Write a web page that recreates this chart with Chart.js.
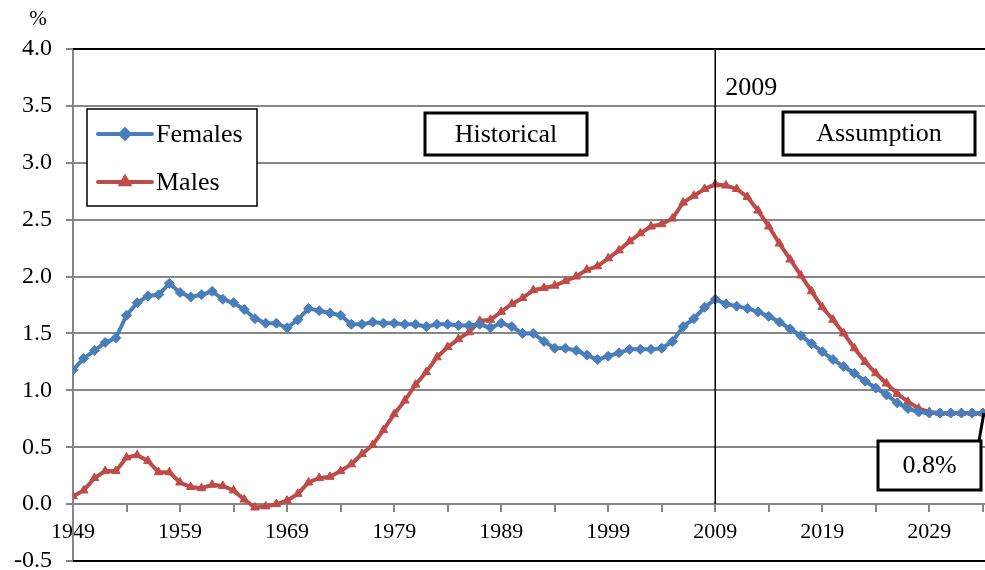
<!DOCTYPE html>
<html>
<head>
<meta charset="utf-8">
<script src="https://cdn.jsdelivr.net/npm/chart.js@4.4.0/dist/chart.umd.min.js"></script>
<style>
  html, body { margin: 0; padding: 0; background: #fff; }
  #wrap { width: 985px; height: 570px; }
</style>
</head>
<body>
<div id="wrap"><canvas id="chart" width="985" height="570"></canvas></div>
<script>
// --- Data ---
const years = [
  1949, 1950, 1951, 1952, 1953, 1954, 1955, 1956, 1957, 1958,
  1959, 1960, 1961, 1962, 1963, 1964, 1965, 1966, 1967, 1968,
  1969, 1970, 1971, 1972, 1973, 1974, 1975, 1976, 1977, 1978,
  1979, 1980, 1981, 1982, 1983, 1984, 1985, 1986, 1987, 1988,
  1989, 1990, 1991, 1992, 1993, 1994, 1995, 1996, 1997, 1998,
  1999, 2000, 2001, 2002, 2003, 2004, 2005, 2006, 2007, 2008,
  2009, 2010, 2011, 2012, 2013, 2014, 2015, 2016, 2017, 2018,
  2019, 2020, 2021, 2022, 2023, 2024, 2025, 2026, 2027, 2028,
  2029, 2030, 2031, 2032, 2033, 2034
];

const females = [
  1.18, 1.28, 1.35, 1.42, 1.46, 1.66, 1.77, 1.83, 1.84, 1.94,
  1.86, 1.82, 1.84, 1.87, 1.80, 1.77, 1.71, 1.63, 1.59, 1.59,
  1.55, 1.62, 1.72, 1.70, 1.68, 1.66, 1.58, 1.58, 1.60, 1.59,
  1.59, 1.58, 1.58, 1.56, 1.58, 1.58, 1.57, 1.57, 1.58, 1.55,
  1.59, 1.56, 1.50, 1.50, 1.43, 1.37, 1.37, 1.35, 1.31, 1.27,
  1.30, 1.33, 1.36, 1.36, 1.36, 1.37, 1.43, 1.56, 1.63, 1.73,
  1.80, 1.76, 1.74, 1.72, 1.69, 1.65, 1.60, 1.54, 1.48, 1.41,
  1.34, 1.27, 1.21, 1.15, 1.08, 1.02, 0.96, 0.89, 0.84, 0.81,
  0.80, 0.80, 0.80, 0.80, 0.80, 0.80
];

const males = [
  0.07, 0.12, 0.23, 0.29, 0.29, 0.41, 0.43, 0.38, 0.28, 0.28,
  0.19, 0.15, 0.14, 0.17, 0.16, 0.12, 0.04, -0.03, -0.02, 0.00,
  0.03, 0.09, 0.19, 0.23, 0.24, 0.29, 0.35, 0.44, 0.52, 0.65,
  0.79, 0.91, 1.05, 1.16, 1.29, 1.38, 1.45, 1.51, 1.61, 1.62,
  1.69, 1.76, 1.81, 1.88, 1.90, 1.92, 1.96, 2.00, 2.06, 2.09,
  2.16, 2.23, 2.31, 2.38, 2.44, 2.46, 2.51, 2.65, 2.71, 2.77,
  2.81, 2.80, 2.77, 2.70, 2.58, 2.44, 2.29, 2.15, 2.01, 1.87,
  1.73, 1.62, 1.50, 1.37, 1.25, 1.15, 1.06, 0.97, 0.90, 0.84,
  0.81, 0.80, 0.80, 0.80, 0.80, 0.80
];

const xTickYears = [1949, 1954, 1959, 1964, 1969, 1974, 1979, 1984, 1989, 1994,
                    1999, 2004, 2009, 2014, 2019, 2024, 2029, 2034];
const xLabelYears = [1949, 1959, 1969, 1979, 1989, 1999, 2009, 2019, 2029];
const yTicks = [-0.5, 0, 0.5, 1, 1.5, 2, 2.5, 3, 3.5, 4];

const dividerYear = 2009;
const finalLabel = '0.8%';

const BLUE = '#4a7ebb';
const RED = '#be4b48';
const GRID = '#868686';
const FONT = '"Liberation Serif", "Times New Roman", serif';

Chart.defaults.font.family = FONT;
Chart.defaults.color = '#000';

// --- Annotations: legend, text boxes, 2009 divider ---
function textBox(ctx, x0, y0, w, h, text) {
  ctx.fillStyle = '#fff';
  ctx.fillRect(x0, y0, w, h);
  ctx.lineWidth = 3;
  ctx.strokeStyle = '#000';
  ctx.strokeRect(x0, y0, w, h);
  ctx.fillStyle = '#000';
  ctx.textAlign = 'center';
  ctx.textBaseline = 'middle';
  ctx.fillText(text, x0 + w / 2, y0 + h / 2 + 1);
}

const overlay = {
  id: 'overlay',
  afterDraw(chart) {
    const { ctx, chartArea: a, scales: { x, y } } = chart;
    ctx.save();

    // plot frame top / bottom
    ctx.strokeStyle = '#000';
    ctx.lineWidth = 2;
    ctx.beginPath();
    ctx.moveTo(a.left, a.top); ctx.lineTo(a.right, a.top);
    ctx.moveTo(a.left, a.bottom); ctx.lineTo(a.right, a.bottom);
    ctx.stroke();

    // 2009 divider
    const xd = x.getPixelForValue(dividerYear);
    ctx.lineWidth = 1.5;
    ctx.beginPath();
    ctx.moveTo(xd, a.top);
    ctx.lineTo(xd, y.getPixelForValue(0));
    ctx.stroke();

    ctx.font = '26px ' + FONT;
    ctx.fillStyle = '#000';
    ctx.textAlign = 'left';
    ctx.textBaseline = 'middle';
    ctx.fillText(String(dividerYear), xd + 10, 88);

    // unit label
    ctx.font = '21px ' + FONT;
    ctx.textAlign = 'center';
    ctx.fillText('%', 38, 19);

    // text boxes
    ctx.font = '26px ' + FONT;
    textBox(ctx, 425, 113, 162, 42, 'Historical');
    textBox(ctx, 783, 112, 192, 43, 'Assumption');

    // 0.8% callout with leader to the last point
    const lx = x.getPixelForValue(years[years.length - 1]);
    const ly = y.getPixelForValue(males[males.length - 1]);
    ctx.strokeStyle = '#000';
    ctx.lineWidth = 3;
    ctx.beginPath();
    ctx.moveTo(979, 441);
    ctx.lineTo(lx + 1, ly);
    ctx.stroke();
    textBox(ctx, 878, 441, 103, 49, finalLabel);

    // legend
    ctx.fillStyle = '#fff';
    ctx.fillRect(87, 109, 170, 97);
    ctx.lineWidth = 1.5;
    ctx.strokeRect(87, 109, 170, 97);
    const items = [
      { label: 'Females', color: BLUE, style: 'rectRot', yy: 134 },
      { label: 'Males', color: RED, style: 'triangle', yy: 182 }
    ];
    items.forEach(it => {
      ctx.strokeStyle = it.color;
      ctx.lineWidth = 4;
      ctx.lineCap = 'round';
      ctx.beginPath();
      ctx.moveTo(98, it.yy); ctx.lineTo(152, it.yy);
      ctx.stroke();
      ctx.fillStyle = it.color;
      Chart.helpers.drawPoint(ctx, { pointStyle: it.style, radius: 4.5, rotation: 0, borderWidth: 1 }, 125, it.yy);
      ctx.fillStyle = '#000';
      ctx.textAlign = 'left';
      ctx.textBaseline = 'middle';
      ctx.font = '26px ' + FONT;
      ctx.fillText(it.label, 156, it.yy + 1);
    });

    ctx.restore();
  }
};

// --- Chart ---
const ctx = document.getElementById('chart').getContext('2d');
new Chart(ctx, {
  type: 'line',
  data: {
    datasets: [
      {
        label: 'Females',
        data: years.map((yr, i) => ({ x: yr, y: females[i] })),
        borderColor: BLUE,
        backgroundColor: BLUE,
        borderWidth: 4,
        pointStyle: 'rectRot',
        pointRadius: 5,
        pointBorderWidth: 1,
        tension: 0
      },
      {
        label: 'Males',
        data: years.map((yr, i) => ({ x: yr, y: males[i] })),
        borderColor: RED,
        backgroundColor: RED,
        borderWidth: 4,
        pointStyle: 'triangle',
        pointRadius: 5,
        pointBorderWidth: 1,
        tension: 0
      }
    ]
  },
  options: {
    responsive: false,
    animation: false,
    layout: { autoPadding: false, padding: { top: 49, bottom: 9, left: 0, right: 0 } },
    plugins: {
      legend: { display: false },
      tooltip: { enabled: false }
    },
    scales: {
      x: {
        type: 'linear',
        position: { y: 0 },
        min: years[0],
        max: 2034.2,
        afterBuildTicks: s => { s.ticks = xTickYears.map(v => ({ value: v })); },
        afterFit: s => { s.paddingLeft = 0; s.paddingRight = 0; },
        grid: { drawOnChartArea: false, drawTicks: true, tickLength: 7, color: GRID, lineWidth: 2 },
        border: { display: true, color: GRID, width: 2 },
        ticks: {
          autoSkip: false,
          maxRotation: 0,
          padding: 8,
          font: { size: 22 },
          color: '#000',
          callback: v => (xLabelYears.includes(v) ? String(v) : '')
        }
      },
      y: {
        min: -0.5,
        max: 4,
        afterBuildTicks: s => { s.ticks = yTicks.map(v => ({ value: v })); },
        afterFit: s => { s.width = 73; s.paddingTop = 0; s.paddingBottom = 0; },
        grid: { color: GRID, lineWidth: 2, tickLength: 7 },
        border: { color: GRID, width: 2 },
        ticks: {
          padding: 14,
          font: { size: 24 },
          color: '#000',
          callback: v => v.toFixed(1)
        }
      }
    }
  },
  plugins: [overlay]
});
</script>
</body>
</html>
